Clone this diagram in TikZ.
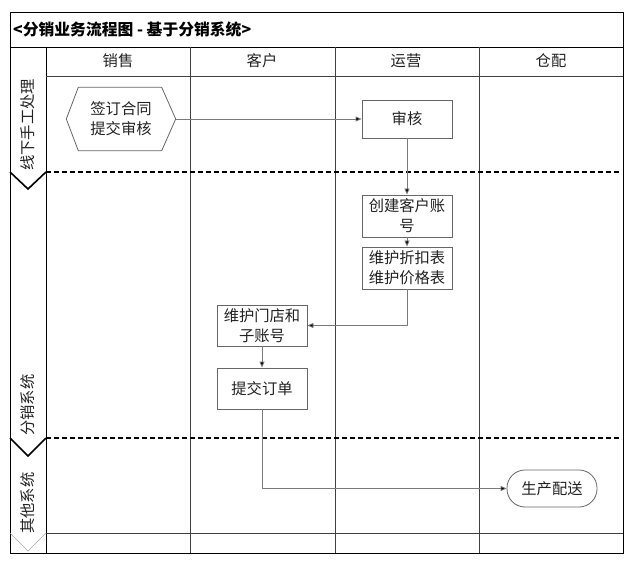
\documentclass[tikz,border=0pt]{standalone}
\usepackage{fontspec}
\setmainfont{Noto Sans CJK SC}
\usetikzlibrary{arrows.meta}
\definecolor{txt}{HTML}{222222}
\definecolor{bord}{HTML}{666666}
\definecolor{conn}{HTML}{7A7A7A}
\tikzset{
  lbl/.style={font=\fontsize{15.3}{20}\selectfont, text=txt, inner sep=0pt, align=center},
  ttl/.style={font=\fontsize{15.8}{20}\selectfont\bfseries, text=black, inner sep=0pt, anchor=west},
  procbox/.style={lbl, draw=bord, line width=0.8pt, minimum width=90pt, fill=white},
  hexbox/.style={lbl, minimum width=109pt, minimum height=63pt},
  termbox/.style={lbl, draw=bord, line width=0.8pt, minimum width=90pt, minimum height=37pt, rounded corners=18pt},
  flow/.style={draw=conn, line width=0.8pt, -{Triangle[width=5pt,length=6pt,fill=black]}},
  frame/.style={draw=black, line width=0.8pt},
  sep/.style={draw=black!75, line width=0.7pt},
  divider/.style={draw=black, line width=1.6pt, dash pattern=on 5pt off 3pt},
  chev/.style={draw=black, line width=1.6pt},
  chevlight/.style={draw=black!35, line width=0.6pt},
}
\begin{document}
\begin{tikzpicture}[x=1pt,y=-1pt]
\useasboundingbox (0,0) rectangle (640,564);
% frame
\draw[frame] (10,12) rectangle (623,553);
\draw[frame] (10,47) -- (623,47);
\draw[frame] (46,47) -- (46,553);
\draw[sep] (46,76) -- (623,76);
\draw[sep] (190,47) -- (190,553);
\draw[sep] (335,47) -- (335,553);
\draw[sep] (479,47) -- (479,553);
\draw[sep] (46,533) -- (623,533);
% dividers
\draw[divider] (46,172) -- (620,172);
\draw[divider] (46,438) -- (620,438);
\draw[chev] (10,172) -- (28,189) -- (46,172);
\draw[chev] (10,438) -- (28,456) -- (46,438);
\draw[chevlight] (10,533) -- (28,551) -- (46,533);
% title and headers
\node[ttl] (title) at (13,29) {<分销业务流程图 - 基于分销系统>};
\node[lbl] (h1) at (118,61) {销售};
\node[lbl] (h2) at (262,61) {客户};
\node[lbl] (h3) at (406,61) {运营};
\node[lbl] (h4) at (551,61) {仓配};
% lane labels
\node[lbl, rotate=90] (l1) at (28,125) {线下手工处理};
\node[lbl, rotate=90] (l2) at (28,405) {分销系统};
\node[lbl, rotate=90] (l3) at (28,503) {其他系统};
% nodes
\node[hexbox] (sign) at (121,119) {签订合同\\提交审核};
\draw[draw=bord, line width=0.8pt] (sign.west) -- ([xshift=12pt]sign.north west) -- ([xshift=-14pt]sign.north east) -- (sign.east) -- ([xshift=-14pt]sign.south east) -- ([xshift=12pt]sign.south west) -- cycle;
\node[procbox, minimum height=38pt] (audit) at (407,119) {审核};
\node[procbox, minimum height=42pt] (acct) at (407,216) {创建客户账\\号};
\node[procbox, minimum height=42pt] (price) at (407,268) {维护折扣表\\维护价格表};
\node[procbox, minimum height=41pt] (store) at (262,325.5) {维护门店和\\子账号};
\node[procbox, minimum height=41pt] (order) at (262,388.5) {提交订单};
\node[termbox] (ship) at (552,488.5) {生产配送};
% connectors
\draw[flow] (sign.east) -- (audit.west);
\draw[flow] (audit.south) -- (acct.north);
\draw[flow] (acct.south) -- (price.north);
\draw[flow] (price.south) |- (store.east);
\draw[flow] (store.south) -- (order.north);
\draw[flow] (order.south) |- (ship.west);
\end{tikzpicture}
\end{document}
